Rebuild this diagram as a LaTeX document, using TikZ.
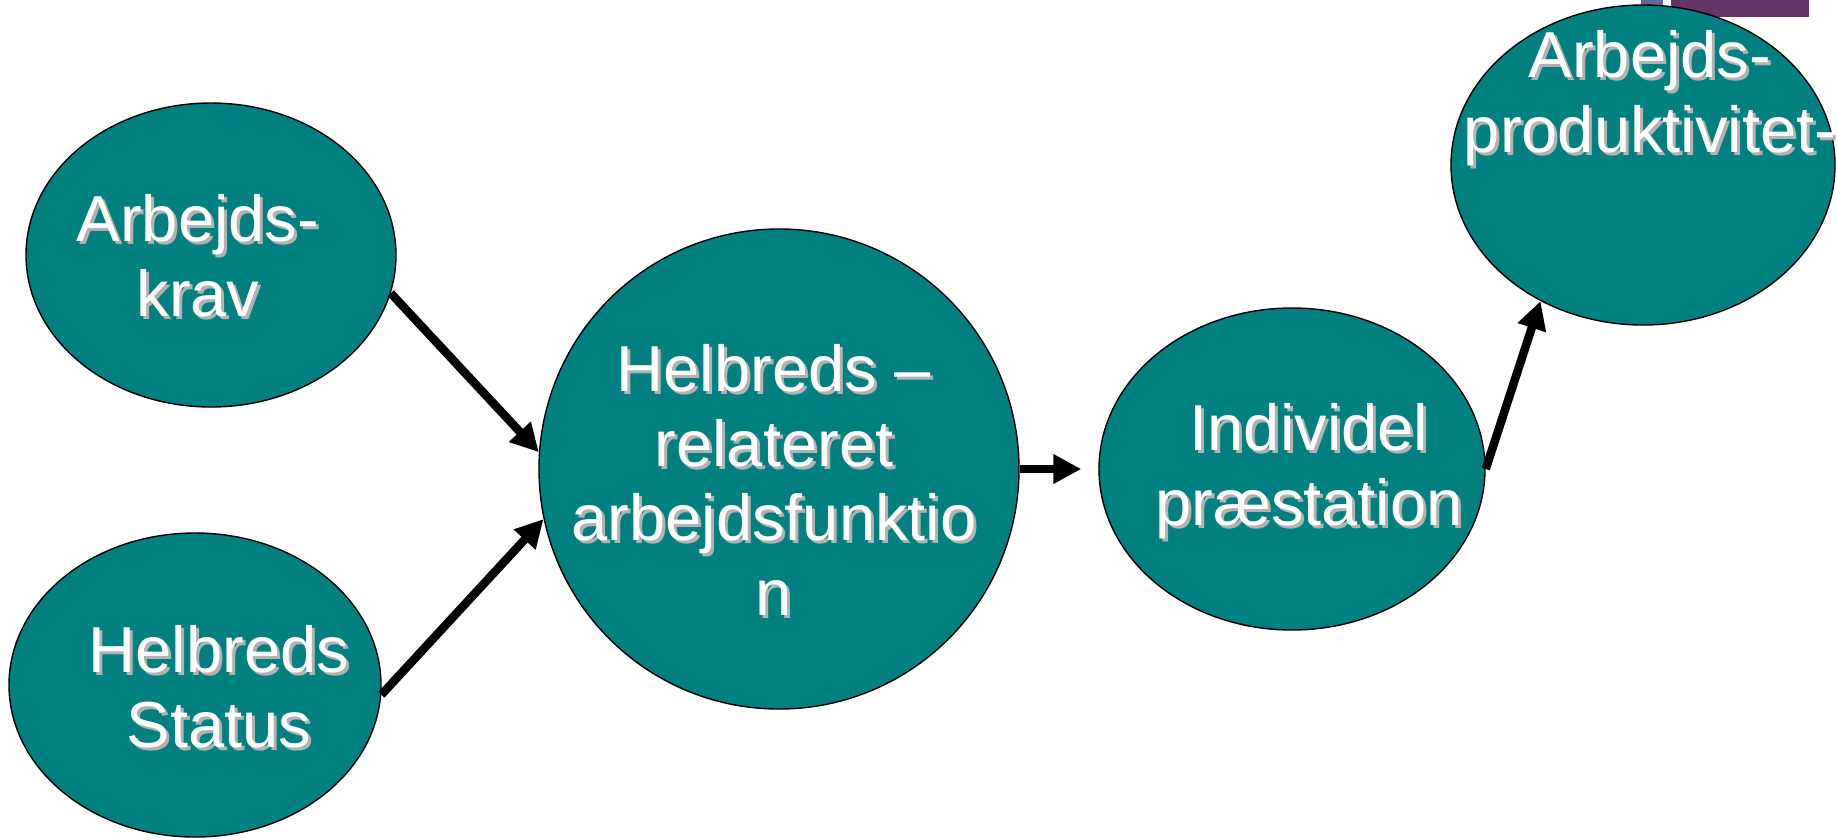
\documentclass[tikz,border=0pt]{standalone}
\usepackage{fontspec}
\setmainfont{Liberation Sans}
\usepackage{tikz}
\usetikzlibrary{arrows.meta,shapes.geometric}
\definecolor{teal}{RGB}{0,128,128}
\definecolor{plum}{RGB}{102,51,102}
\definecolor{slate}{RGB}{102,102,153}
\tikzset{
	blob/.style={ellipse, draw=black, line width=0.8pt, fill=teal, inner sep=0pt},
	lbl/.style={text=white, align=center, font=\fontsize{37}{42.5}\selectfont},
	shade/.style={lbl, text=black!30, xshift=0.6mm, yshift=-0.6mm},
	arr/.style={line width=1.7mm, -{Triangle[length=5.6mm, width=5.6mm]}}
}
\newcommand{\blobtext}[3]{
	\node[shade] (#1shade) at (#2) {#3};
	\node[lbl] (#1) at (#2) {#3};
}

\begin{document}
\begin{tikzpicture}[x=0.2mm, y=-0.2mm]
			%%%%% START %%%%%
			\useasboundingbox (0, 0) rectangle (1837, 839);
			
			\fill[color=slate] (1641, 0) rectangle (1663, 17);
			\fill[color=plum] (1671, 0) rectangle (1809, 17);
			
			\node[blob, minimum width=74mm, minimum height=60.8mm] (krav) at (211, 255) {};
			\node[blob, minimum width=74.4mm, minimum height=60.8mm] (status) at (195, 685) {};
			\node[blob, minimum width=96mm, minimum height=96mm] (funktion) at (779, 469) {};
			\node[blob, minimum width=77.2mm, minimum height=64.4mm] (praest) at (1292, 469) {};
			\node[blob, minimum width=76.8mm, minimum height=64mm] (produkt) at (1643, 165) {};
			
			\blobtext{kravtxt}{198, 256}{Arbejds-\\krav}
			\blobtext{statustxt}{219, 687}{Helbreds\\Status}
			\blobtext{funktiontxt}{774, 480}{Helbreds –\\relateret\\arbejdsfunktio\\n}
			\blobtext{praesttxt}{1309, 471}{Individel\\præstation}
			\blobtext{produkttxt}{1650, 98}{Arbejds-\\produktivitet-}
			
			\draw[arr] (krav.-12) -- (funktion.176);
			\draw[arr] (status.-3) -- (funktion.192);
			\draw[arr, shorten >=3.4mm] (funktion.0) -- (praest.180);
			\draw[arr] (praest.0) -- (produkt.233);
			%%%%% END %%%%%
\end{tikzpicture}
\end{document}
